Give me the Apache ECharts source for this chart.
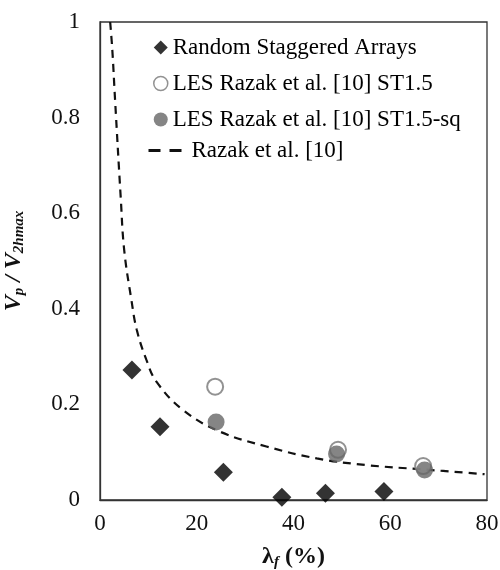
<!DOCTYPE html>
<html>
<head>
<meta charset="utf-8">
<script src="https://cdn.jsdelivr.net/npm/echarts@6/dist/echarts.min.js"></script>
<style>
html,body{margin:0;padding:0;background:#fff;}
#chart{width:500px;height:570px;}
</style>
</head>
<body>
<div id="chart"></div>
<script>
// ---- data ----
const diamondX = [6.6, 12.4, 25.5, 37.6, 46.6, 58.7];
const diamondY = [0.272, 0.153, 0.058, 0.006, 0.014, 0.018];
const openX = [23.8, 49.2, 66.8];
const openY = [0.237, 0.105, 0.071];
const filledX = [24.0, 48.9, 67.1];
const filledY = [0.163, 0.096, 0.063];
const curveX = [2.1, 2.55, 3.1, 4.3, 5.0, 6.5, 7.6, 9.6, 11.7, 17.2, 24.8, 34.4, 44.8, 55.1, 66.8, 79.5];
const curveY = [1.0, 0.941, 0.84, 0.63, 0.523, 0.418, 0.356, 0.293, 0.247, 0.188, 0.143, 0.112, 0.087, 0.073, 0.064, 0.054];
const xTicks = [0, 20, 40, 60, 80];
const yTicks = [0, 0.2, 0.4, 0.6, 0.8, 1];
const seriesNames = ['Random Staggered Arrays', 'LES Razak et al. [10] ST1.5', 'LES Razak et al. [10] ST1.5-sq', 'Razak et al. [10]'];

const pairs = (xs, ys) => xs.map((x, i) => [x, ys[i]]);
const FONT = '"Liberation Serif", "DejaVu Serif", serif';

const chart = echarts.init(document.getElementById('chart'), null, {renderer: 'canvas'});
chart.setOption({
  animation: false,
  backgroundColor: '#fff',
  textStyle: {fontFamily: FONT},
  grid: {left: 100, right: 13, top: 22, bottom: 70, containLabel: false, outerBoundsMode: 'none',
         show: true, borderColor: '#333', borderWidth: 1.3},
  legend: [
    {
      orient: 'vertical', left: 148, top: 31,
      itemWidth: 14, itemHeight: 14, itemGap: 13,
      textStyle: {fontFamily: FONT, fontSize: 23, color: '#000', lineHeight: 22},
      data: [
        {name: seriesNames[0], icon: 'diamond'},
        {name: seriesNames[1], icon: 'circle', itemStyle: {color: '#fff', borderColor: '#777', borderWidth: 1.5}},
        {name: seriesNames[2], icon: 'circle'}
      ]
    },
    {
      orient: 'vertical', left: 142, top: 134,
      itemWidth: 38, itemHeight: 14,
      textStyle: {fontFamily: FONT, fontSize: 23, color: '#000', lineHeight: 22},
      lineStyle: {type: [12, 9], width: 3, color: '#111'},
      itemStyle: {opacity: 0},
      data: [{name: seriesNames[3]}]
    }
  ],
  xAxis: {
    type: 'value', min: xTicks[0], max: xTicks[xTicks.length - 1], interval: 20,
    axisLine: {show: true, lineStyle: {color: '#333', width: 1.3}},
    axisTick: {show: false},
    splitLine: {show: false},
    axisLabel: {fontFamily: FONT, fontSize: 23, color: '#111', margin: 12},
    name: '{b|λ}{s|f}{b| (%)}',
    nameLocation: 'middle', nameGap: 44,
    nameTextStyle: {
      rich: {
        b: {fontFamily: FONT, fontSize: 24, fontWeight: 'bold', color: '#111', lineHeight: 26},
        s: {fontFamily: FONT, fontSize: 15, fontWeight: 'bold', fontStyle: 'italic', color: '#111', padding: [10, 0, 0, 0], lineHeight: 26}
      }
    }
  },
  yAxis: {
    type: 'value', min: yTicks[0], max: yTicks[yTicks.length - 1], interval: 0.2,
    axisLine: {show: true, lineStyle: {color: '#333', width: 1.3}},
    axisTick: {show: false},
    splitLine: {show: false},
    axisLabel: {fontFamily: FONT, fontSize: 23, color: '#111', margin: 20},
    name: '{v|V}{s|p}{v| / V}{s|2hmax}',
    nameLocation: 'middle', nameRotate: 90, nameGap: 73,
    nameTextStyle: {
      rich: {
        v: {fontFamily: FONT, fontSize: 24, fontWeight: 'bold', fontStyle: 'italic', color: '#111', lineHeight: 26},
        s: {fontFamily: FONT, fontSize: 15, fontWeight: 'bold', fontStyle: 'italic', color: '#111', padding: [10, 0, 0, 0], lineHeight: 26}
      }
    }
  },
  series: [
    {
      name: seriesNames[3], type: 'line', data: pairs(curveX, curveY),
      smooth: 0.4, symbol: 'none', clip: true, z: 1,
      lineStyle: {color: '#111', width: 2.2, type: [8, 6]},
      itemStyle: {color: '#111'}
    },
    {
      name: seriesNames[0], type: 'scatter', data: pairs(diamondX, diamondY),
      symbol: 'diamond', symbolSize: 19, z: 3,
      itemStyle: {color: '#000'}
    },
    {
      name: seriesNames[1], type: 'scatter', data: pairs(openX, openY),
      symbol: 'circle', symbolSize: 16, z: 3,
      itemStyle: {color: '#fff', borderColor: '#777', borderWidth: 2}
    },
    {
      name: seriesNames[2], type: 'scatter', data: pairs(filledX, filledY),
      symbol: 'circle', symbolSize: 17, z: 4,
      itemStyle: {color: '#666'}
    }
  ]
});
</script>
</body>
</html>
